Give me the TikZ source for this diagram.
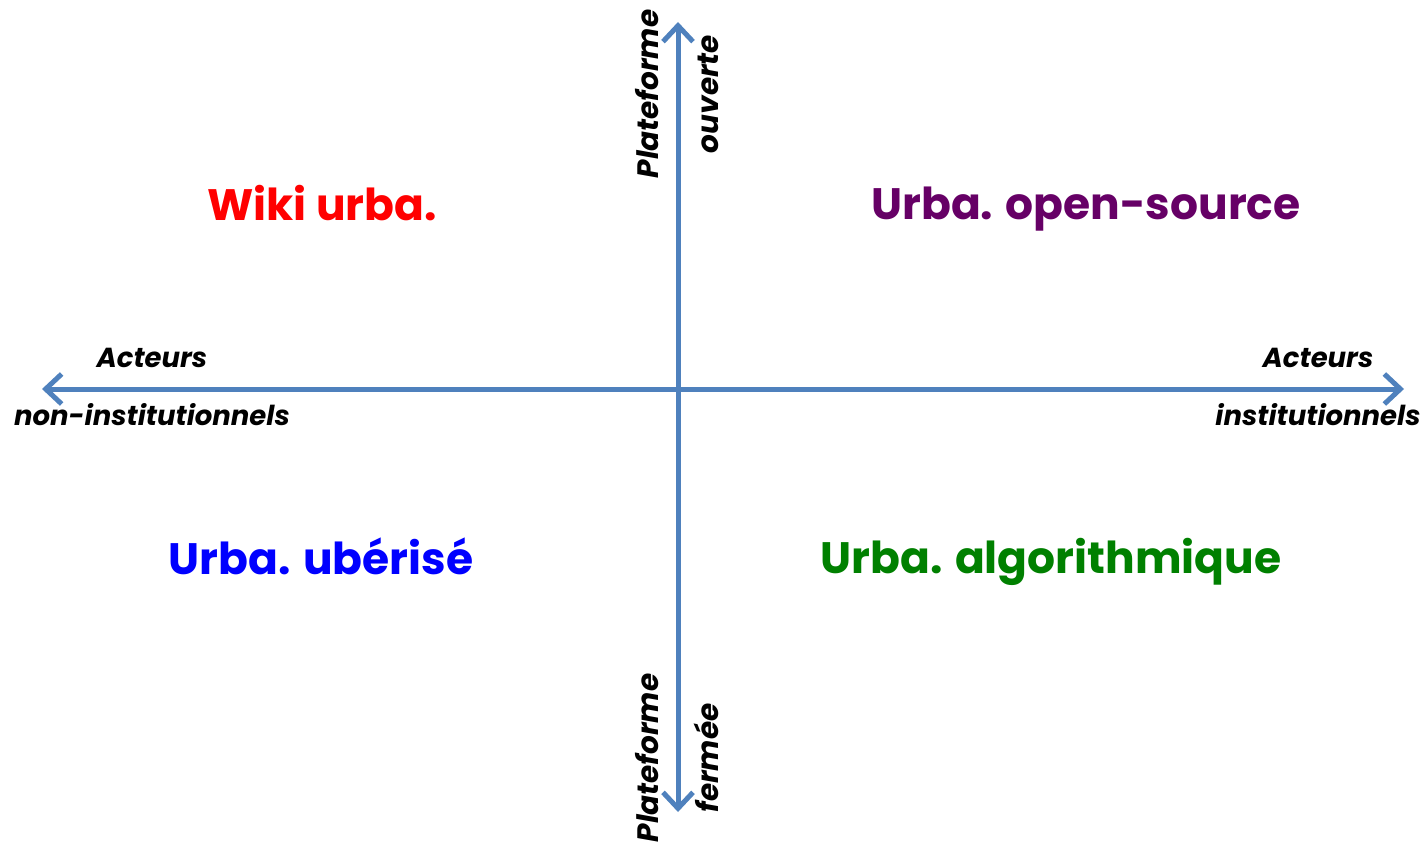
\documentclass[tikz,border=0pt]{standalone}
\usepackage{fontspec}
\setmainfont{Poppins}
\usetikzlibrary{arrows.meta}
\definecolor{axisblue}{RGB}{79,129,189}
\definecolor{qred}{RGB}{255,0,0}
\definecolor{qpurple}{RGB}{102,0,102}
\definecolor{qblue}{RGB}{0,0,255}
\definecolor{qgreen}{RGB}{0,128,0}
\begin{document}
\begin{tikzpicture}[x=1pt,y=-1pt,
  axisline/.style={draw=axisblue,line width=5pt,{Straight Barb[length=16pt,width=30pt]}-{Straight Barb[length=16pt,width=30pt]}},
  axislabel/.style={font=\fontsize{27.5}{58}\selectfont\bfseries\itshape,align=center,inner sep=0pt},
  vlabel/.style={font=\fontsize{29.5}{60}\selectfont\bfseries\itshape,align=center,inner sep=0pt,rotate=90},
  quadlabel/.style={font=\fontsize{44}{50}\selectfont\bfseries,inner sep=0pt}]
\useasboundingbox (0,0) rectangle (1426,842);
\coordinate (L) at (42,389);
\coordinate (R) at (1404,389);
\coordinate (T) at (678,22);
\coordinate (B) at (678,812);
\draw[axisline] (L) -- (R);
\draw[axisline] (B) -- (T);
\node[vlabel] (topl) at (677,94) {Plateforme\\ouverte};
\node[vlabel] (botl) at (677,758) {Plateforme\\fermée};
\node[axislabel] (leftl) at (152,387) {Acteurs\\non-institutionnels};
\node[axislabel] (rightl) at (1318,387) {Acteurs\\institutionnels};
\node[quadlabel,text=qred] (wiki) at (322,203) {Wiki urba.};
\node[quadlabel,text=qpurple] (open) at (1086,209) {Urba. open-source};
\node[quadlabel,text=qblue] (uber) at (321,556) {Urba. ubérisé};
\node[quadlabel,text=qgreen] (algo) at (1051,562) {Urba. algorithmique};
\end{tikzpicture}
\end{document}
